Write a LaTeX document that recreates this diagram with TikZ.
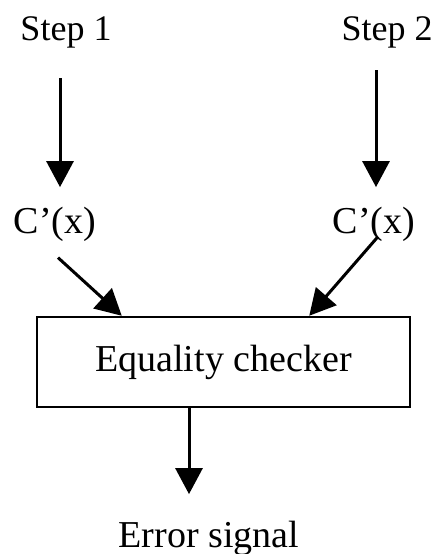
\documentclass[tikz,border=0pt]{standalone}
\usepackage{fontspec}
\setmainfont{Liberation Serif}
\usetikzlibrary{arrows.meta}

\begin{document}
\begin{tikzpicture}[x=1pt, y=-1pt, every node/.style={font=\fontsize{38}{44}\selectfont}, >={Triangle[length=26pt, width=27pt]}, flow/.style={->, line width=3pt}]
	\useasboundingbox (0,0) rectangle (438,554);
	\node[anchor=base, font=\fontsize{36}{42}\selectfont] (s1) at (66,40) {Step 1};
	\node[anchor=base, font=\fontsize{36}{42}\selectfont] (s2) at (387,40) {Step 2};
	\node[anchor=base] (c1) at (55,233) {C’(x)};
	\node[anchor=base] (c2) at (374,233) {C’(x)};
	\node[draw, line width=2.5pt, minimum width=373pt, minimum height=90pt] (eq) at (223.5,362) {Equality checker};
	\node[anchor=base] (err) at (209,547) {Error signal};
	\draw[flow] ([shift={(-6,27)}]s1.south) -- ([shift={(5,-16)}]c1.north);
	\draw[flow] ([shift={(-11,19)}]s2.south) -- ([shift={(2,-16)}]c2.north);
	\draw[flow] ([shift={(3,13)}]c1.south) -- ([xshift=86pt]eq.north west);
	\draw[flow] ([shift={(4,-8)}]c2.south) -- ([xshift=-102pt]eq.north east);
	\draw[flow] ([xshift=-34.5pt]eq.south) -- ([shift={(-20,-23)}]err.north);
\end{tikzpicture}
\end{document}
